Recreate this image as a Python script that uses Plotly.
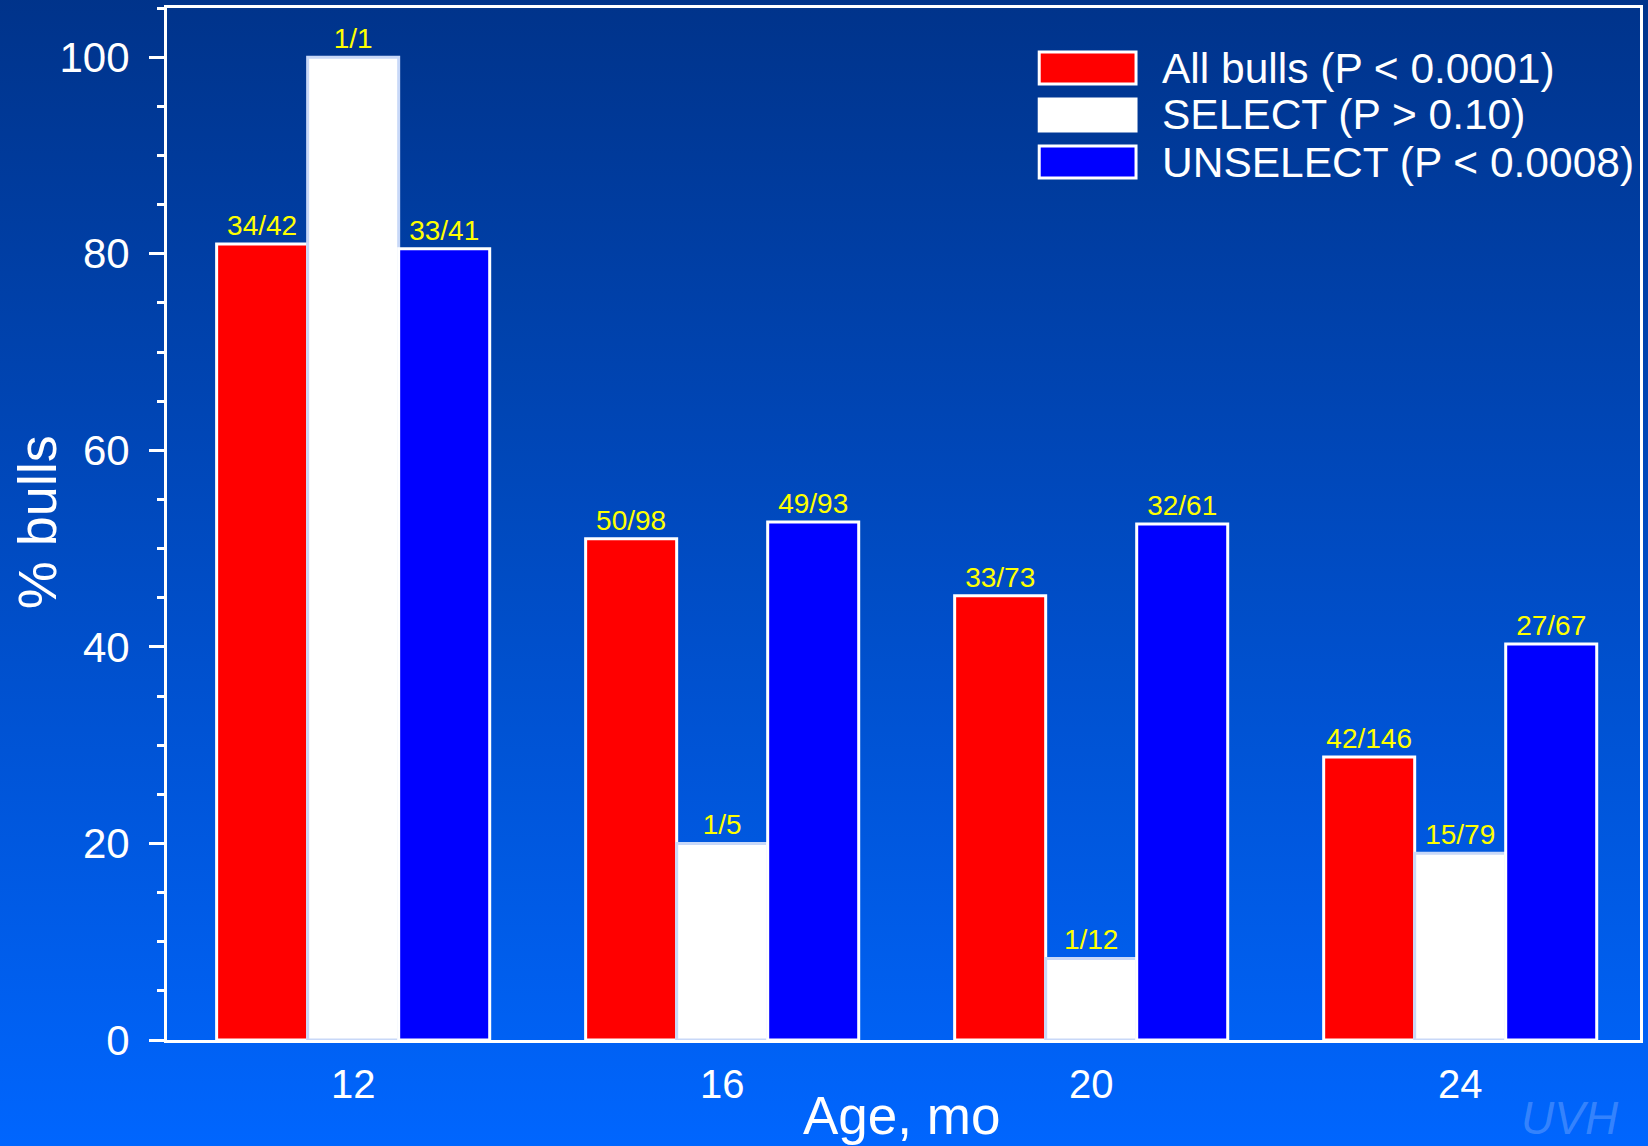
import base64
import plotly.graph_objects as go

# ---- data ----
ages = [12, 16, 20, 24]
series_names = ["All bulls (P < 0.0001)", "SELECT (P > 0.10)", "UNSELECT (P < 0.0008)"]
all_bulls = [81.0, 51.0, 45.2, 28.8]
select_ = [100.0, 20.0, 8.3, 19.0]
unselect = [80.5, 52.7, 52.5, 40.3]
all_labels = ["34/42", "50/98", "33/73", "42/146"]
select_labels = ["1/1", "1/5", "1/12", "15/79"]
unselect_labels = ["33/41", "49/93", "32/61", "27/67"]
y_ticks = [0, 20, 40, 60, 80, 100]

# ---- style ----
W, H = 1648, 1146
L, R, T, B = 167, 5, 8, 106
PW, PH = W - L - R, H - T - B
FONT = "Liberation Sans, Arial, sans-serif"
fills = ["#ff0000", "#ffffff", "#0000ff"]
outlines = ["#ffffff", "#c8d8f8", "#ffffff"]


def px_x(px):
    return (px - L) / PW


def px_y(py):
    return (H - B - py) / PH


fig = go.Figure()
for name, vals, labels, fc, lc in zip(
    series_names, [all_bulls, select_, unselect],
    [all_labels, select_labels, unselect_labels], fills, outlines
):
    fig.add_trace(go.Bar(
        x=ages, y=vals, name=name, text=labels,
        textposition="outside", constraintext="none", cliponaxis=False,
        textfont=dict(color="#ffff00", size=28, family=FONT),
        marker=dict(color=fc, line=dict(color=lc, width=3)),
        showlegend=False,
    ))

# background gradient
svg = ('<svg xmlns="http://www.w3.org/2000/svg" width="100" height="100" preserveAspectRatio="none">'
       '<defs><linearGradient id="g" x1="0" y1="0" x2="0" y2="1">'
       '<stop offset="0" stop-color="#00338a"/><stop offset="0.5" stop-color="#004cc4"/>'
       '<stop offset="1" stop-color="#0066ff"/></linearGradient></defs>'
       '<rect width="100" height="100" fill="url(#g)"/></svg>')
src = "data:image/svg+xml;base64," + base64.b64encode(svg.encode()).decode()

shapes = []
annotations = []
# custom legend
row_centres = [68, 115, 162]
for name, fc, cy in zip(series_names, fills, row_centres):
    shapes.append(dict(
        type="rect", xref="paper", yref="paper",
        x0=px_x(1041), x1=px_x(1138), y0=px_y(cy + 16), y1=px_y(cy - 16),
        fillcolor=fc, line=dict(color="#ffffff", width=3), layer="above",
    ))
    annotations.append(dict(
        xref="paper", yref="paper", x=px_x(1162), y=px_y(cy),
        xanchor="left", yanchor="middle", text=name, showarrow=False,
        font=dict(color="#ffffff", size=42.5, family=FONT),
    ))

# axis titles
annotations.append(dict(
    xref="paper", yref="paper", x=px_x(37), y=px_y(522), textangle=-90,
    xanchor="center", yanchor="middle", text="% bulls", showarrow=False,
    font=dict(color="#ffffff", size=54, family=FONT),
))
annotations.append(dict(
    xref="paper", yref="paper", x=px_x(903), y=px_y(1115),
    xanchor="center", yanchor="middle", text="Age, mo", showarrow=False,
    font=dict(color="#ffffff", size=53, family=FONT),
))
# watermark
annotations.append(dict(
    xref="paper", yref="paper", x=px_x(1522), y=px_y(1146),
    xanchor="left", yanchor="bottom", text="<i>UVH</i>", showarrow=False,
    font=dict(color="rgba(120,170,255,0.45)", size=46, family=FONT),
))

fig.update_layout(
    width=W, height=H,
    margin=dict(l=L, r=R, t=T, b=B, pad=0),
    paper_bgcolor="#004cc4", plot_bgcolor="rgba(0,0,0,0)",
    barmode="group", bargap=0.26, bargroupgap=0,
    font=dict(family=FONT, color="#ffffff"),
    showlegend=False,
    images=[dict(
        source=src, xref="paper", yref="paper",
        x=px_x(-6), y=px_y(-6), sizex=(W + 12) / PW, sizey=(H + 12) / PH,
        xanchor="left", yanchor="top", sizing="stretch", layer="below",
    )],
    shapes=shapes, annotations=annotations,
    xaxis=dict(
        range=[9.982, 25.949], tickvals=ages, ticktext=[str(a) for a in ages],
        showgrid=False, zeroline=False, showline=True, mirror=True,
        linecolor="#ffffff", linewidth=3, ticks="",
        tickfont=dict(size=40, color="#ffffff", family=FONT),
        ticklabelstandoff=7,
    ),
    yaxis=dict(
        range=[0, 105], tickvals=y_ticks,
        showgrid=False, zeroline=False, showline=True, mirror=True,
        linecolor="#ffffff", linewidth=3,
        ticks="outside", ticklen=15, tickwidth=3, tickcolor="#ffffff",
        tickfont=dict(size=42, color="#ffffff", family=FONT),
        ticklabelstandoff=11,
        minor=dict(dtick=5, ticks="outside", ticklen=7, tickwidth=3, tickcolor="#ffffff"),
    ),
)

fig.write_html(
    "out.html",
    config={"displayModeBar": False},
    post_script="document.body.style.margin='0';document.body.style.overflow='hidden';",
)
